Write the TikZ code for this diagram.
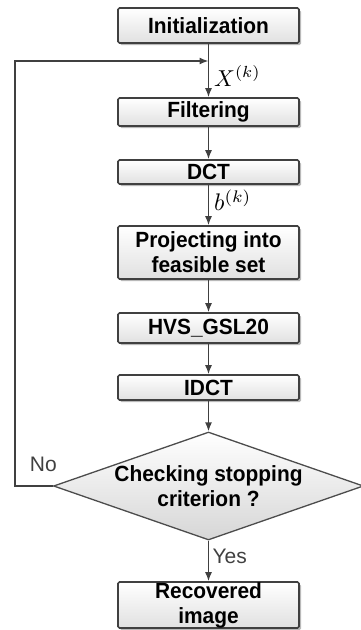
\documentclass[tikz,border=0pt]{standalone}
\usepackage{graphicx}
\usepackage{fontspec}
\setmainfont{Liberation Sans}
\newfontfamily\boxfont[FakeStretch=0.95]{Liberation Sans}
\usetikzlibrary{shapes.geometric,shadows,arrows.meta}

\begin{document}
\begin{tikzpicture}[x=1pt,y=1pt,
    stepbox/.style={draw=black!75,line width=1.6pt,rounded corners=1.5pt,
      top color=white,bottom color=black!12,
      drop shadow={shadow xshift=2pt,shadow yshift=-2pt,fill=black!55},
      minimum width=181pt,inner sep=0pt,align=center,
      font=\boxfont\fontsize{22}{25}\selectfont\bfseries},
    decision/.style={diamond,draw=black!70,line width=1.3pt,
      top color=white,bottom color=black!16,
      minimum width=310pt,minimum height=108pt,inner sep=0pt},
    decisiontext/.style={align=center,font=\boxfont\fontsize{22}{25}\selectfont\bfseries},
    arr/.style={draw=black!75,line width=1.4pt,-{Latex[length=9pt,width=7pt]}},
    lbl/.style={text=black!75,font=\fontsize{21}{24}\selectfont},
    mlbl/.style={inner sep=5pt}]

  \useasboundingbox (0,0) rectangle (361,-630);

  % steps
  \node[stepbox,minimum height=35pt] (init) at (208.5,-25.5) {Initialization};
  \node[stepbox,minimum height=28pt] (filt) at (208.5,-112)  {Filtering};
  \node[stepbox,minimum height=24pt] (dct)  at (208.5,-172)  {DCT};
  \node[stepbox,minimum height=53pt] (proj) at (208.5,-252.5) {Projecting into\\feasible set};
  \node[stepbox,minimum height=30pt] (hvs)  at (208.5,-328)  {HVS\_GSL20};
  \node[stepbox,minimum height=25pt] (idct) at (208.5,-387.5) {IDCT};
  \node[decision] (chk) at (208.5,-486) {};
  \node[decisiontext] (chktxt) at (chk.center) {Checking stopping\\criterion ?};
  \node[stepbox,minimum height=46pt] (rec)  at (208.5,-605)  {Recovered\\image};

  \coordinate (lp)   at (15,-486);
  \coordinate (join) at (208.5,-61);

  % flow
  \draw[arr] (init) -- node[mlbl,right,pos=.6] {\scalebox{2.3}{$X^{(k)}$}} (filt);
  \draw[arr] (filt) -- (dct);
  \draw[arr] (dct)  -- node[mlbl,right,pos=.38] {\scalebox{2.4}{$b^{(k)}$}} (proj);
  \draw[arr] (proj) -- (hvs);
  \draw[arr] (hvs)  -- (idct);
  \draw[arr] (idct) -- (chk.north);
  \draw[arr] (chk.south) -- node[lbl,right,pos=.4] {Yes} (rec);
  \draw[arr] (chk.west) -- node[lbl,above=10pt,pos=.25] {No} (lp) |- (join);

\end{tikzpicture}
\end{document}
